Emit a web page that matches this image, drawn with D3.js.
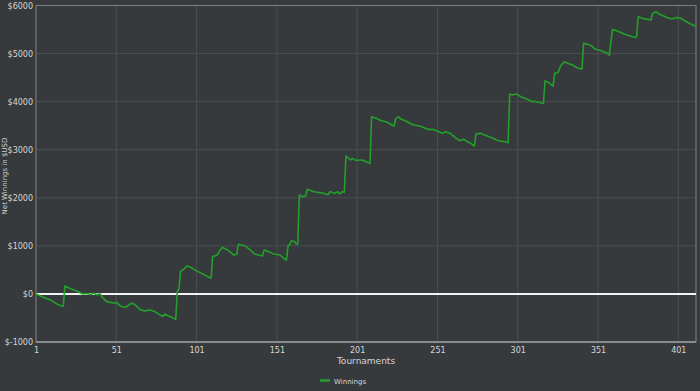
<!DOCTYPE html>
<meta charset="utf-8">
<script src="https://d3js.org/d3.v7.min.js"></script>
<style>
  body { margin: 0; background: #373a3d; overflow: hidden; }
  text { font-family: "DejaVu Sans", sans-serif; fill: #d6d6d6; }
</style>
<div id="chart"></div>
<script>
// cumulative winnings (tournament, $)
var tournaments = [1, 7, 10, 14, 17, 18, 19, 23, 27, 30, 32, 35, 37, 39, 41, 42, 45, 50, 51, 54, 57, 60, 61, 63, 66, 69, 72, 75, 80, 81, 88,
  89, 90, 91, 93, 95, 97, 101, 110, 111, 114, 115, 117, 121, 124, 126, 127, 131, 134, 137, 142, 143, 146, 149, 153, 156, 157,
  158, 159, 160, 162, 163, 164, 165, 167, 169, 170, 174, 180, 183, 184, 187, 189, 190, 192, 193, 194, 197, 198, 200, 204, 209,
  210, 213, 216, 219, 224, 225, 227, 228, 231, 236, 240, 245, 248, 252, 254, 256, 259, 262, 265, 267, 271, 274, 275, 278, 280,
  284, 289, 293, 295, 296, 298, 300, 303, 308, 310, 311, 315, 317, 318, 320, 323, 324, 326, 328, 330, 332, 335, 338, 341, 342,
  345, 347, 349, 353, 356, 358, 360, 363, 368, 374, 375, 376, 379, 382, 384, 385, 387, 389, 394, 397, 400, 402, 406, 410, 412];
var winnings = [0, -90, -125, -208, -250, -255, 166, 100, 50, 0, 10, -10, 15, -15, 0, -55, -160, -195, -170, -263, -277, -200, -194, -235, -333, -353, -333, -368, -471, -416, -527,
  50, 100, 464, 514, 582, 560, 480, 326, 776, 811, 880, 970, 900, 811, 825, 1033, 1004, 929, 832, 790, 915, 880, 832, 810, 721, 707,
  1019, 1019, 1108, 1090, 1040, 1040, 2058, 2023, 2040, 2177, 2127, 2093, 2064, 2127, 2093, 2127, 2079, 2127, 2110, 2869, 2786, 2821, 2780, 2786, 2717,
  3686, 3652, 3603, 3582, 3493, 3652, 3686, 3640, 3603, 3513, 3493, 3424, 3424, 3374, 3340, 3374, 3340, 3258, 3187, 3217, 3146, 3077, 3327, 3340, 3310,
  3258, 3187, 3167, 3146, 4158, 4140, 4158, 4103, 4033, 3998, 4010, 3977, 3963, 4435, 4401, 4324, 4588, 4600, 4761, 4830, 4800, 4761, 4706, 4678, 5212,
  5190, 5162, 5093, 5058, 5024, 4969, 5503, 5468, 5398, 5336, 5350, 5765, 5731, 5711, 5697, 5835, 5870, 5822, 5752, 5717, 5752, 5740, 5661, 5592, 5572];

var xTicks = [1, 51, 101, 151, 201, 251, 301, 351, 401];
var yTicks = [-1000, 0, 1000, 2000, 3000, 4000, 5000, 6000];

var data = tournaments.map(function(t, i) { return { t: t, v: winnings[i] }; });

var W = 700, H = 391;
var margin = { top: 5.5, right: 4, bottom: 49, left: 36 },
  width = W - margin.left - margin.right,
  height = H - margin.top - margin.bottom;

var svg = d3.select("#chart").append("svg")
  .attr("width", W).attr("height", H);

var g = svg.append("g")
  .attr("transform", "translate(" + margin.left + "," + margin.top + ")");

var x = d3.scaleLinear().domain([1, 412]).range([0, width]);
var y = d3.scaleLinear().domain([-1000, 6000]).range([height, 0]);

// grid
g.append("g").selectAll("line").data(yTicks).enter().append("line")
  .attr("x1", 0).attr("x2", width)
  .attr("y1", function(d) { return y(d); }).attr("y2", function(d) { return y(d); })
  .attr("stroke", "#4b4e52").attr("stroke-width", 1);
g.append("g").selectAll("line").data(xTicks.slice(1)).enter().append("line")
  .attr("y1", 0).attr("y2", height)
  .attr("x1", function(d) { return x(d); }).attr("x2", function(d) { return x(d); })
  .attr("stroke", "#4b4e52").attr("stroke-width", 1);

// frame
g.append("rect")
  .attr("width", width).attr("height", height)
  .attr("fill", "none").attr("stroke", "#75787b").attr("stroke-width", 1.2);
g.append("line")
  .attr("x1", 0).attr("x2", width).attr("y1", height).attr("y2", height)
  .attr("stroke", "#8a8d90").attr("stroke-width", 2);

// zero line
g.append("line")
  .attr("x1", 0).attr("x2", width).attr("y1", y(0)).attr("y2", y(0))
  .attr("stroke", "#f2f2f2").attr("stroke-width", 2);

// axes
var yAxis = g.append("g")
  .call(d3.axisLeft(y).tickValues(yTicks).tickSize(0).tickPadding(3)
    .tickFormat(function(d) { return "$" + d; }));
var xAxis = g.append("g")
  .attr("transform", "translate(0," + height + ")")
  .call(d3.axisBottom(x).tickValues(xTicks).tickSize(0).tickPadding(5));
[yAxis, xAxis].forEach(function(a) {
  a.select(".domain").remove();
  a.selectAll("text").style("font-size", "8px").attr("fill", "#d6d6d6");
});

// line
g.append("path")
  .datum(data)
  .attr("fill", "none")
  .attr("stroke", "#22a029")
  .attr("stroke-width", 1.6)
  .attr("stroke-linejoin", "round")
  .attr("d", d3.line()
    .x(function(d) { return x(d.t); })
    .y(function(d) { return y(d.v); }));

// axis titles
svg.append("text")
  .attr("x", margin.left + width / 2).attr("y", 364)
  .attr("text-anchor", "middle")
  .style("font-size", "9px")
  .text("Tournaments");

svg.append("text")
  .attr("transform", "translate(6.5,176) rotate(-90)")
  .attr("text-anchor", "middle")
  .style("font-size", "7px")
  .text("Net Winnings in $USD");

// legend
svg.append("line")
  .attr("x1", 320).attr("x2", 330).attr("y1", 380.5).attr("y2", 380.5)
  .attr("stroke", "#22a029").attr("stroke-width", 2.5);
svg.append("text")
  .attr("x", 334).attr("y", 383.5)
  .style("font-size", "7px")
  .text("Winnings");
</script>
